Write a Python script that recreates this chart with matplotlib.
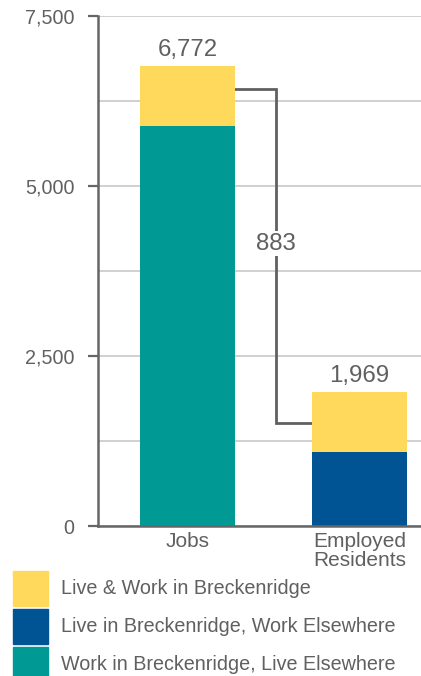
import matplotlib.pyplot as plt
from matplotlib.patches import Rectangle

# data
categories = ["Jobs", "Employed\nResidents"]
work_here_live_elsewhere = [5889, 0]
live_here_work_elsewhere = [0, 1086]
live_and_work_here = [883, 883]

series_labels = [
    "Live & Work in Breckenridge",
    "Live in Breckenridge, Work Elsewhere",
    "Work in Breckenridge, Live Elsewhere",
]
connector_levels = [6420, 1515]
connector_label = "883"

colors = {
    "yellow": "#FFD95C",
    "blue": "#005493",
    "teal": "#009994",
}
text_color = "#606060"
axis_color = "#666666"

plt.rcParams['font.family'] = ['Liberation Sans', 'DejaVu Sans']

fig = plt.figure(figsize=(4.21, 6.76), dpi=100)
ax = fig.add_axes([98 / 421, 1 - 526 / 676, 1 - 98 / 421, 510 / 676])

x = list(range(len(categories)))
width = 0.552

# stacked bars: teal, blue, yellow
bottom = [0] * len(x)
for vals, c in [(work_here_live_elsewhere, colors["teal"]),
                (live_here_work_elsewhere, colors["blue"]),
                (live_and_work_here, colors["yellow"])]:
    ax.bar(x, vals, width, bottom=bottom, color=c, zorder=3)
    bottom = [b + v for b, v in zip(bottom, vals)]

totals = bottom
for xi, t in zip(x, totals):
    ax.text(xi, t + 70, f"{t:,}", ha='center', va='bottom',
            fontsize=17.3, color=text_color, zorder=4)

# connector between the two yellow segments
x_mid = 0.515
ax.plot([x[0] + width / 2, x_mid, x_mid, x[1] - width / 2],
        [connector_levels[0], connector_levels[0], connector_levels[1], connector_levels[1]],
        color=text_color, lw=2, zorder=2, solid_joinstyle='miter')
ax.text(x_mid, 4150, connector_label, ha='center', va='center', fontsize=17.3,
        color=text_color, zorder=4,
        bbox=dict(facecolor='white', edgecolor='none', pad=1))

# axes styling
ax.set_xlim(-0.52, 1.358)
ax.set_ylim(0, 7500)
ax.set_yticks([0, 2500, 5000, 7500])
ax.set_yticklabels(["0", "2,500", "5,000", "7,500"])
ax.set_yticks([1250, 3750, 6250], minor=True)
ax.grid(axis='y', which='both', color='#c8c8c8', lw=1.2, zorder=0)
ax.set_xticks(x)
ax.set_xticklabels(categories, fontsize=15, color=text_color, linespacing=1.0)
ax.tick_params(axis='x', length=0, pad=4)
ax.tick_params(axis='y', which='major', length=7, width=1.6, color=axis_color,
               labelsize=14.2, labelcolor=text_color, pad=10)
ax.tick_params(axis='y', which='minor', length=0)
for s in ['top', 'right']:
    ax.spines[s].set_visible(False)
for s in ['left', 'bottom']:
    ax.spines[s].set_color(axis_color)
    ax.spines[s].set_linewidth(1.8)
    ax.spines[s].set_zorder(5)

# legend drawn by hand
leg = fig.add_axes([0, 0, 1, 1], zorder=-1)
leg.set_xlim(0, 421)
leg.set_ylim(676, 0)
leg.axis('off')
leg_colors = [colors["yellow"], colors["blue"], colors["teal"]]
for i, (lab, c) in enumerate(zip(series_labels, leg_colors)):
    y0 = 571 + i * 38
    leg.add_patch(Rectangle((13, y0), 35, 35, color=c))
    leg.text(61, y0 + 18, lab, va='center', ha='left', fontsize=14.2, color=text_color)

fig.savefig("out.png", dpi=100, facecolor='white')
